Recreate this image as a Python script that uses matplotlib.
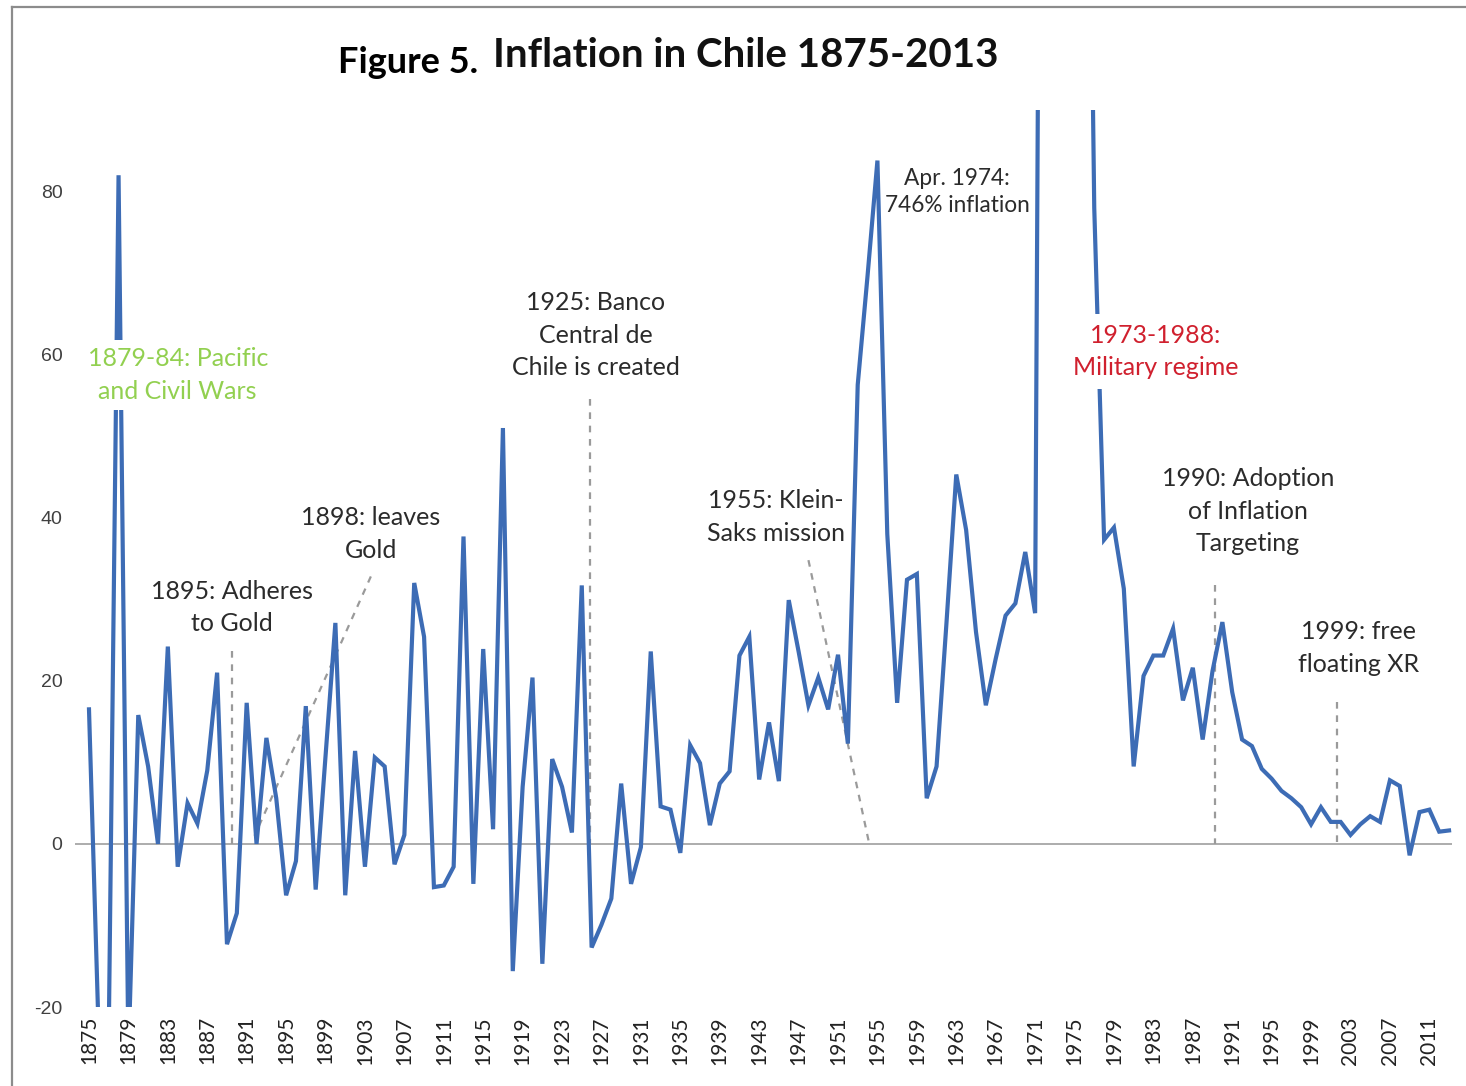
import matplotlib
matplotlib.use("Agg")
import matplotlib.pyplot as plt
from matplotlib.lines import Line2D

# ---- data (annual inflation, %) ----
years = list(range(1875, 2014))
inflation = [
    16.5, -24.0, -24.0, 82.0, -26.0,                                  # 1875-79
    15.8, 9.5, 0.0, 24.2, -2.8, 5.0, 2.5, 9.0, 21.0, -12.3,            # 1880s
    -8.5, 17.3, 0.0, 13.0, 5.6, -6.3, -2.1, 16.9, -5.6, 10.8,          # 1890s
    27.1, -6.3, 11.4, -2.8, 10.6, 9.5, -2.5, 1.1, 32.0, 25.4,          # 1900s
    -5.3, -5.1, -2.8, 37.7, -4.9, 23.9, 1.8, 51.0, -15.6, 7.0,         # 1910s
    20.4, -14.7, 10.4, 7.0, 1.4, 31.7, -12.7, -9.9, -6.7, 7.4,         # 1920s
    -4.9, -0.4, 23.6, 4.6, 4.2, -1.1, 12.1, 9.9, 2.3, 7.4,             # 1930s
    8.9, 23.1, 25.4, 7.9, 14.9, 7.7, 29.9, 23.6, 17.0, 20.4,           # 1940s
    16.5, 23.2, 12.3, 56.3, 69.7, 83.8, 38.0, 17.3, 32.4, 33.1,        # 1950s
    5.6, 9.5, 27.0, 45.3, 38.5, 26.0, 17.0, 22.7, 28.0, 29.5,          # 1960s
    35.8, 28.3, 255.0, 508.0, 376.0, 341.0, 174.0, 78.0, 37.3, 38.8,   # 1970s
    31.3, 9.5, 20.6, 23.1, 23.1, 26.4, 17.6, 21.6, 12.8, 21.2,         # 1980s
    27.2, 18.6, 12.8, 12.0, 9.2, 8.0, 6.5, 5.6, 4.5, 2.4,              # 1990s
    4.5, 2.7, 2.7, 1.1, 2.4, 3.4, 2.7, 7.8, 7.1, -1.4,                 # 2000s
    3.9, 4.2, 1.5, 1.65,                                               # 2010-13
]
tick_years = list(range(1875, 2014, 4))
y_ticks = [-20, 0, 20, 40, 60, 80]

# annotation texts: (text, x, y, fontsize)
notes_black = [
    ("1895: Adheres\nto Gold", 1889.5, 29.0, 18),
    ("1898: leaves\nGold", 1903.6, 38.0, 18),
    ("1925: Banco\nCentral de\nChile is created", 1926.4, 62.4, 18),
    ("1955: Klein-\nSaks mission", 1944.7, 40.1, 18),
    ("Apr. 1974:\n746% inflation", 1963.1, 79.9, 16.3),
    ("1990: Adoption\nof Inflation\nTargeting", 1992.6, 40.8, 18),
    ("1999: free\nfloating XR", 2003.8, 24.0, 18),
]
# dashed leader lines: (x0, y0, x1, y1)
leaders = [
    (1889.5, 23.6, 1889.5, 0.0),
    (1903.6, 32.8, 1891.8, 1.0),
    (1925.8, 54.5, 1925.8, 0.0),
    (1948.0, 34.8, 1954.1, 0.4),
    (1989.3, 31.7, 1989.3, 0.0),
    (2001.6, 17.4, 2001.6, 0.0),
]

BLUE = "#3d6cb5"
GREEN = "#92d050"
RED = "#d0202e"
TXT = "#2b2b2b"
FONT = ["Lato", "DejaVu Sans"]
LS = 1.5

W, H = 1466, 1086
fig = plt.figure(figsize=(W / 100, H / 100), dpi=100)
fig.patch.set_facecolor("white")

# plot area in pixels: x 75..1452, y 110..1007
ax = fig.add_axes([75 / W, 1 - 1007 / H, (1452 - 75) / W, (1007 - 110) / H])
ax.set_xlim(1873.58, 2013.3)
ax.set_ylim(-20, 90)

ax.plot(years, inflation, color=BLUE, lw=3.0, zorder=3, solid_joinstyle="miter")
ax.axhline(0, color="#a6a6a6", lw=1.3, zorder=1)

for x0, y0, x1, y1 in leaders:
    ax.plot([x0, x1], [y0, y1], color="#9a9a9a", lw=1.6, ls=(0, (3, 3)), zorder=2)

for txt, x, y, fs in notes_black:
    ax.text(x, y, txt, ha="center", va="center", fontsize=fs, color=TXT,
            family=FONT, linespacing=LS if fs >= 18 else 1.35, zorder=5)

ax.text(1884.0, 57.5, "1879-84: Pacific\nand Civil Wars", ha="center", va="center",
        fontsize=18, color=GREEN, family=FONT, linespacing=LS, zorder=5,
        bbox=dict(facecolor="white", edgecolor="none", pad=5))
ax.text(1983.2, 60.4, "1973-1988:\nMilitary regime", ha="center", va="center",
        fontsize=18, color=RED, family=FONT, linespacing=LS, zorder=5,
        bbox=dict(facecolor="white", edgecolor="none", pad=7))

ax.set_xticks(tick_years)
ax.set_xticklabels([str(y) for y in tick_years], rotation=90, fontsize=15,
                   color="#222222", family=FONT)
ax.set_yticks(y_ticks)
ax.set_yticklabels([str(v) for v in y_ticks], fontsize=14, color="#404040",
                   family=["Liberation Sans", "DejaVu Sans"])
ax.tick_params(axis="x", length=0, pad=6.5)
ax.tick_params(axis="y", length=0, pad=9)
for s in ax.spines.values():
    s.set_visible(False)
ax.patch.set_alpha(0)

# title
fig.text(338 / W, 1 - 73 / H, "Figure 5.", fontsize=26, fontweight="bold",
         family=FONT, color="black", va="baseline", ha="left")
fig.text(493 / W, 1 - 67 / H, "Inflation in Chile 1875-2013", fontsize=29,
         fontweight="bold", family=FONT, color="#111111", va="baseline", ha="left")

# chart-area border (only left and top edges are inside the crop)
fig.add_artist(Line2D([12 / W, 12 / W], [0, 1 - 7 / H], color="#8c8c8c", lw=1.6,
                      transform=fig.transFigure))
fig.add_artist(Line2D([12 / W, 1], [1 - 7 / H, 1 - 7 / H], color="#8c8c8c", lw=1.6,
                      transform=fig.transFigure))

fig.savefig("out.png", dpi=100, facecolor="white")
